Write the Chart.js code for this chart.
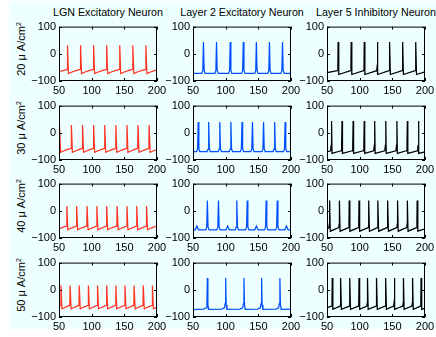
<!DOCTYPE html>
<html>
<head>
<meta charset="utf-8">
<script src="https://cdn.jsdelivr.net/npm/chart.js@4"></script>
<style>
  body { margin: 0; background: #fff; width: 436px; height: 337px; overflow: hidden; position: relative; font-family: "Liberation Sans", Arial, sans-serif; }
  #bg { position: absolute; left: 9px; top: 1px; width: 427px; height: 328px; background: rgb(238, 255, 255); }
  canvas { position: absolute; }
  .title { position: absolute; top: 5px; width: 140px; text-align: center; font-size: 10.7px; line-height: 14px; white-space: nowrap; }
  .ylab { position: absolute; width: 80px; text-align: center; font-size: 11px; line-height: 14px; white-space: nowrap; transform: rotate(-90deg); transform-origin: 50% 50%; }
  .ylab sup { font-size: 7px; vertical-align: 4px; line-height: 0; }
</style>
</head>
<body>
<div id="bg"></div>
<script>
// column titles and row labels
const TITLES = ["LGN Excitatory Neuron", "Layer 2 Excitatory Neuron", "Layer 5 Inhibitory Neuron"];
const CURRENTS = ["20", "30", "40", "50"];
const COLORS = ["#ff3322", "#0050ff", "#000000"];

// time (ms), membrane potential (mV)
const LGN_20 = [
    [50, -66], [56, -62], [62.5, -57],
    [63, 31], [64.5, -73], [70, -67], [76, -62], [82.5, -57],
    [83, 31], [84.5, -73], [90, -67], [96, -62], [102.5, -57],
    [103, 31], [104.5, -73], [110, -67], [116, -62], [122.5, -57],
    [123, 31], [124.5, -73], [130, -67], [136, -62], [142.5, -57],
    [143, 31], [144.5, -73], [150, -67], [156, -62], [162.5, -57],
    [163, 31], [164.5, -73], [170, -67], [176, -62], [182.5, -57],
    [183, 31], [184.5, -73], [190, -67], [196, -62], [200, -59],
];
const LGN_30 = [
    [50, -57], [50.6, -57],
    [51, 29], [52.5, -72], [57, -67], [62, -62], [68.5, -57],
    [69, 29], [70.5, -72], [75, -67], [80, -62], [85.5, -57],
    [86, 29], [87.5, -72], [92, -67], [97, -62], [102.5, -57],
    [103, 29], [104.5, -72], [109, -67], [114, -62], [119.5, -57],
    [120, 29], [121.5, -72], [126, -67], [131, -62], [136.5, -57],
    [137, 29], [138.5, -72], [143, -67], [148, -62], [153.5, -57],
    [154, 29], [155.5, -72], [160, -67], [165, -62], [170.5, -57],
    [171, 29], [172.5, -72], [177, -67], [182, -62], [187.5, -57],
    [188, 29], [189.5, -72], [194, -67], [200, -61],
];
const LGN_40 = [
    [50, -66], [55, -62], [61.5, -56],
    [62, 18], [63.5, -70], [67.5, -65], [72, -61], [76.5, -56],
    [77, 18], [78.5, -70], [82.5, -65], [87, -61], [92.5, -56],
    [93, 18], [94.5, -70], [98.5, -65], [103, -61], [107.5, -56],
    [108, 18], [109.5, -70], [113.5, -65], [118, -61], [122.5, -56],
    [123, 18], [124.5, -70], [128.5, -65], [133, -61], [138.5, -56],
    [139, 18], [140.5, -70], [144.5, -65], [149, -61], [153.5, -56],
    [154, 18], [155.5, -70], [159.5, -65], [164, -61], [168.5, -56],
    [169, 18], [170.5, -70], [174.5, -65], [179, -61], [183.5, -56],
    [184, 18], [185.5, -70], [189.5, -65], [194, -61], [199.3, -56],
    [199.8, 18], [200, 0],
];
const LGN_50 = [
    [50, -62], [52.5, -57],
    [53, 16], [54.5, -70], [58, -66], [62, -62], [66.5, -57],
    [67, 16], [68.5, -70], [72, -66], [76, -62], [80.5, -57],
    [81, 16], [82.5, -70], [86, -66], [90, -62], [94.5, -57],
    [95, 16], [96.5, -70], [100, -66], [104, -62], [108.5, -57],
    [109, 16], [110.5, -70], [114, -66], [118, -62], [122.5, -57],
    [123, 16], [124.5, -70], [128, -66], [132, -62], [136.5, -57],
    [137, 16], [138.5, -70], [142, -66], [146, -62], [150.5, -57],
    [151, 16], [152.5, -70], [156, -66], [160, -62], [164.5, -57],
    [165, 16], [166.5, -70], [170, -66], [174, -62], [178.5, -57],
    [179, 16], [180.5, -70], [184, -66], [188, -62], [192.5, -57],
    [193, 16], [194.5, -70], [198, -66], [200, -64],
];

const L2_20 = [
    [50, -72],
    [63.5, -72], [65, -62], [66, 43], [67, -60], [68.5, -72],
    [83.5, -72], [85, -62], [86, 43], [87, -60], [88.5, -72],
    [104.5, -72], [106, -62], [107, 43], [108, -60], [109.5, -72],
    [124.5, -72], [126, -62], [127, 43], [128, -60], [129.5, -72],
    [144.5, -72], [146, -62], [147, 43], [148, -60], [149.5, -72],
    [164.5, -72], [166, -62], [167, 43], [168, -60], [169.5, -72],
    [184.5, -72], [186, -62], [187, 43], [188, -60], [189.5, -72],
    [200, -72],
];
const L2_30 = [
    [50, -69],
    [55.5, -69], [57, -60], [58, 40], [59, -58], [60.5, -69],
    [71.5, -69], [73, -60], [74, 40], [75, -58], [76.5, -69],
    [88.5, -69], [90, -60], [91, 40], [92, -58], [93.5, -69],
    [105.5, -69], [107, -60], [108, 40], [109, -58], [110.5, -69],
    [122.5, -69], [124, -60], [125, 40], [126, -58], [127.5, -69],
    [138.5, -69], [140, -60], [141, 40], [142, -58], [143.5, -69],
    [155.5, -69], [157, -60], [158, 40], [159, -58], [160.5, -69],
    [172.5, -69], [174, -60], [175, 40], [176, -58], [177.5, -69],
    [188.5, -69], [190, -60], [191, 40], [192, -58], [193.5, -69],
    [200, -69],
];
const L2_40 = [
    [50, -70],
    [53.5, -70], [56, -56], [58.5, -70],
    [69.5, -70], [71, -60], [72, 38], [73, -58], [74.5, -70],
    [86.5, -70], [88, -60], [89, 38], [90, -58], [91.5, -70],
    [100.5, -70], [103, -56], [105.5, -70],
    [114.5, -70], [116, -60], [117, 38], [118, -58], [119.5, -70],
    [130.5, -70], [132, -60], [133, 38], [134, -58], [135.5, -70],
    [144.5, -70], [147, -56], [149.5, -70],
    [159.5, -70], [161, -60], [162, 38], [163, -58], [164.5, -70],
    [176.5, -70], [178, -60], [179, 38], [180, -58], [181.5, -70],
    [190.5, -70], [193, -56], [195.5, -70],
    [200, -70],
];
const L2_50 = [
    [50, -73],
    [66, -71], [70, -66], [71.3, -50], [72, 43], [72.8, -55], [74, -72],
    [94, -71], [98, -66], [99.3, -50], [100, 43], [100.8, -55], [102, -72],
    [122, -71], [126, -66], [127.3, -50], [128, 43], [128.8, -55], [130, -72],
    [149, -71], [153, -66], [154.3, -50], [155, 43], [155.8, -55], [157, -72],
    [177, -71], [181, -66], [182.3, -50], [183, 43], [183.8, -55], [185, -72],
    [200, -71],
];

const L5_20 = [
    [50, -69], [66, -62], [66.6, -50],
    [67, 43], [68, -76], [86, -62], [86.6, -50],
    [87, 43], [88, -76], [106, -62], [106.6, -50],
    [107, 43], [108, -76], [126, -62], [126.6, -50],
    [127, 43], [128, -76], [145, -62], [145.6, -50],
    [146, 43], [147, -76], [165, -62], [165.6, -50],
    [166, 43], [167, -76], [185, -62], [185.6, -50],
    [186, 43], [187, -76], [200, -66],
];
const L5_30 = [
    [50, -70], [55.5, -66], [56.4, -45],
    [57, 43], [57.7, -76], [71.5, -66], [72.4, -45],
    [73, 43], [73.7, -76], [88.5, -66], [89.4, -45],
    [90, 43], [90.7, -76], [105.5, -66], [106.4, -45],
    [107, 43], [107.7, -76], [121.5, -66], [122.4, -45],
    [123, 43], [123.7, -76], [138.5, -66], [139.4, -45],
    [140, 43], [140.7, -76], [155.5, -66], [156.4, -45],
    [157, 43], [157.7, -76], [171.5, -66], [172.4, -45],
    [173, 43], [173.7, -76], [188.5, -66], [189.4, -45],
    [190, 43], [190.7, -76], [200, -70],
];
const L5_40 = [
    [50, -68], [53, -62], [53.6, -48],
    [54, 38], [55, -75], [68, -62], [68.6, -48],
    [69, 38], [70, -75], [83, -62], [83.6, -48],
    [84, 38], [85, -75], [98, -62], [98.6, -48],
    [99, 38], [100, -75], [113, -62], [113.6, -48],
    [114, 38], [115, -75], [127, -62], [127.6, -48],
    [128, 38], [129, -75], [142, -62], [142.6, -48],
    [143, 38], [144, -75], [157, -62], [157.6, -48],
    [158, 38], [159, -75], [172, -62], [172.6, -48],
    [173, 38], [174, -75], [187, -62], [187.6, -48],
    [188, 38], [189, -75], [200, -66],
];
const L5_50 = [
    [50, -66], [57, -60], [57.6, -48],
    [58, 43], [59, -72], [70, -60], [70.6, -48],
    [71, 43], [72, -72], [84, -60], [84.6, -48],
    [85, 43], [86, -72], [98, -60], [98.6, -48],
    [99, 43], [100, -72], [111, -60], [111.6, -48],
    [112, 43], [113, -72], [125, -60], [125.6, -48],
    [126, 43], [127, -72], [139, -60], [139.6, -48],
    [140, 43], [141, -72], [152, -60], [152.6, -48],
    [153, 43], [154, -72], [166, -60], [166.6, -48],
    [167, 43], [168, -72], [180, -60], [180.6, -48],
    [181, 43], [182, -72], [193, -60], [193.6, -48],
    [194, 43], [195, -72], [200, -68],
];

const PANELS = [
    [LGN_20, L2_20, L5_20],
    [LGN_30, L2_30, L5_30],
    [LGN_40, L2_40, L5_40],
    [LGN_50, L2_50, L5_50],
];

// plot boxes in page pixels
const COL_LEFT = [59, 193, 327];
const ROW_TOP = [25, 104, 182, 261];
const PLOT_W = 98;
const PLOT_H = 56;
const AXIS_W = 45;
const PAD_TOP = 8;
const PAD_RIGHT = 14;
const AXIS_H = 22;

const TICK_FONT = { family: "'Liberation Sans', Arial, sans-serif", size: 11 };

// matlab style box with inward ticks
const boxPlugin = {
    id: "box",
    afterDraw(chart) {
        const { ctx, chartArea: a, scales } = chart;
        ctx.save();
        ctx.strokeStyle = "#000";
        ctx.lineWidth = 1;
        ctx.strokeRect(a.left + 0.5, a.top + 0.5, a.right - a.left - 1, a.bottom - a.top - 1);
        ctx.beginPath();
        scales.x.ticks.forEach((t) => {
            const px = Math.round(scales.x.getPixelForValue(t.value)) + 0.5;
            ctx.moveTo(px, a.bottom);
            ctx.lineTo(px, a.bottom - 3);
            ctx.moveTo(px, a.top);
            ctx.lineTo(px, a.top + 3);
        });
        scales.y.ticks.forEach((t) => {
            const py = Math.round(scales.y.getPixelForValue(t.value)) + 0.5;
            ctx.moveTo(a.left, py);
            ctx.lineTo(a.left + 3, py);
            ctx.moveTo(a.right, py);
            ctx.lineTo(a.right - 3, py);
        });
        ctx.stroke();
        ctx.restore();
    },
};

const makePanel = (row, col) => {
    const canvas = document.createElement("canvas");
    const w = AXIS_W + PLOT_W + PAD_RIGHT;
    const h = PAD_TOP + PLOT_H + AXIS_H;
    canvas.width = w;
    canvas.height = h;
    canvas.style.left = COL_LEFT[col] - AXIS_W + "px";
    canvas.style.top = ROW_TOP[row] - PAD_TOP + "px";
    canvas.style.width = w + "px";
    canvas.style.height = h + "px";
    document.body.appendChild(canvas);

    const points = PANELS[row][col].map(([t, v]) => ({ x: t, y: v }));

    new Chart(canvas, {
        type: "line",
        data: {
            datasets: [
                {
                    data: points,
                    borderColor: COLORS[col],
                    borderWidth: 1.25,
                    pointRadius: 0,
                    tension: 0,
                    fill: false,
                },
            ],
        },
        options: {
            responsive: false,
            animation: false,
            devicePixelRatio: 1,
            layout: { padding: { top: PAD_TOP, right: PAD_RIGHT, left: 0, bottom: 0 } },
            plugins: { legend: { display: false }, tooltip: { enabled: false } },
            scales: {
                x: {
                    type: "linear",
                    min: 50,
                    max: 200,
                    grid: { display: false, drawTicks: false },
                    border: { display: false },
                    ticks: { stepSize: 50, color: "#000", font: TICK_FONT, padding: 3, maxRotation: 0, autoSkip: false },
                    afterFit: (scale) => { scale.height = AXIS_H; },
                },
                y: {
                    type: "linear",
                    min: -100,
                    max: 100,
                    grid: { display: false, drawTicks: false },
                    border: { display: false },
                    ticks: {
                        stepSize: 100,
                        color: "#000",
                        font: TICK_FONT,
                        padding: 3,
                        callback: (v) => String(v).replace("-", "\u2212"),
                    },
                    afterFit: (scale) => { scale.width = AXIS_W; },
                },
            },
        },
        plugins: [boxPlugin],
    });
};

TITLES.forEach((text, col) => {
    const div = document.createElement("div");
    div.className = "title";
    div.textContent = text;
    div.style.left = COL_LEFT[col] + PLOT_W / 2 - 70 + "px";
    document.body.appendChild(div);
});

CURRENTS.forEach((cur, row) => {
    const div = document.createElement("div");
    div.className = "ylab";
    div.innerHTML = cur + " \u03bc A/cm<sup>2</sup>";
    const cy = ROW_TOP[row] + PLOT_H / 2 - 4;
    div.style.left = 21 - 40 + "px";
    div.style.top = cy - 7 + "px";
    document.body.appendChild(div);
});

for (let r = 0; r < 4; r++) {
    for (let c = 0; c < 3; c++) {
        makePanel(r, c);
    }
}
</script>
</body>
</html>
